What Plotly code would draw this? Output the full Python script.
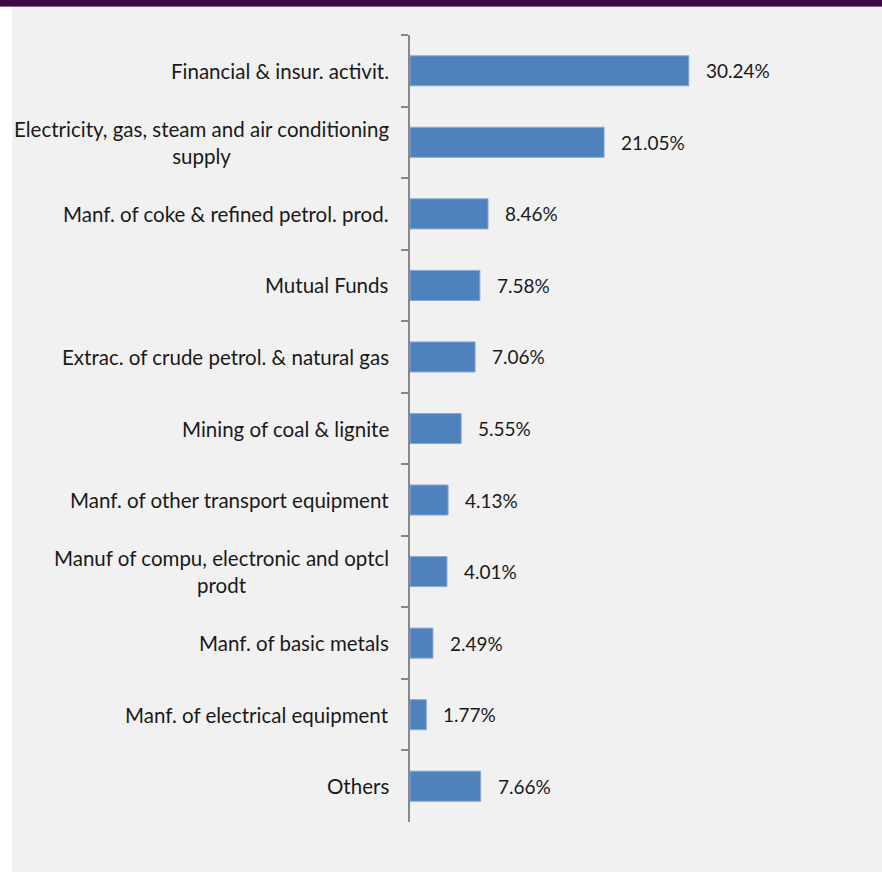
import plotly.graph_objects as go

# Sector-wise share of investment (percent)
categories = [
    "Financial & insur. activit.",
    "Electricity, gas, steam and air conditioning<br>supply",
    "Manf. of coke & refined petrol. prod.",
    "Mutual Funds",
    "Extrac. of crude petrol. & natural gas",
    "Mining of coal & lignite",
    "Manf. of other transport equipment",
    "Manuf of compu, electronic and optcl<br>prodt",
    "Manf. of basic metals",
    "Manf. of electrical equipment",
    "Others",
]
shares = [30.24, 21.05, 8.46, 7.58, 7.06, 5.55, 4.13, 4.01, 2.49, 1.77, 7.66]
value_labels = [f"{v:.2f}%" for v in shares]

W, H = 882, 872
ML, MR, MT, MB = 410, 11, 35, 50
PW, PH = W - ML - MR, H - MT - MB

FONT = "Lato"
TXT = "#1a1a1a"


def px_x(x):
    return (x - ML) / PW


def px_y(y):
    return 1 - (y - MT) / PH


fig = go.Figure(
    go.Bar(
        x=shares,
        y=categories,
        orientation="h",
        marker=dict(color="#4f81bd", line=dict(color="#86a8d6", width=1)),
        hoverinfo="skip",
    )
)

annotations = []
# category labels, right-aligned next to the axis, lines centred
for c in categories:
    annotations.append(dict(
        x=px_x(391), xref="paper", y=c, yref="y",
        text=c, showarrow=False, xanchor="right", yanchor="middle",
        align="center", font=dict(family=FONT, size=20.5, color=TXT),
    ))
# value labels beside each bar
for c, v, t in zip(categories, shares, value_labels):
    annotations.append(dict(
        x=v, xref="x", y=c, yref="y", text=t, showarrow=False,
        xanchor="left", yanchor="middle", xshift=15,
        font=dict(family=FONT, size=19, color=TXT),
    ))

shapes = [
    # white strip on the left edge
    dict(type="rect", xref="paper", yref="paper", x0=px_x(0), x1=px_x(12),
         y0=px_y(H), y1=px_y(0), fillcolor="white", line_width=0, layer="below"),
    # header band
    dict(type="rect", xref="paper", yref="paper", x0=px_x(0), x1=px_x(W),
         y0=px_y(6), y1=px_y(0), fillcolor="#3b0a45", line_width=0),
    dict(type="rect", xref="paper", yref="paper", x0=px_x(0), x1=px_x(W),
         y0=px_y(7), y1=px_y(6), fillcolor="#8a6390", line_width=0),
]

fig.update_layout(
    width=W, height=H,
    margin=dict(l=ML, r=MR, t=MT, b=MB, pad=0),
    paper_bgcolor="#f1f1f1",
    plot_bgcolor="#f1f1f1",
    bargap=0.58,
    showlegend=False,
    annotations=annotations,
    shapes=shapes,
    xaxis=dict(visible=False, range=[0, 50], fixedrange=True),
    yaxis=dict(
        type="category",
        categoryorder="array",
        categoryarray=categories,
        autorange="reversed",
        showticklabels=False,
        showgrid=False,
        zeroline=False,
        showline=True,
        linecolor="#888888",
        linewidth=2,
        ticks="outside",
        tickson="boundaries",
        ticklen=7,
        tickwidth=2,
        tickcolor="#888888",
    ),
)

fig.write_html("out.html")
